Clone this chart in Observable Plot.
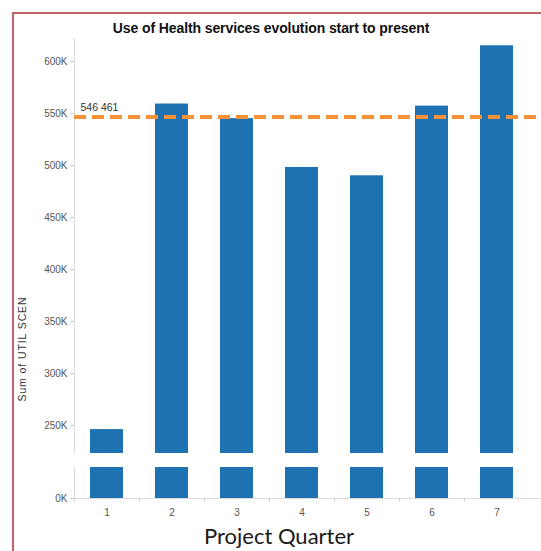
<!DOCTYPE html>
<html><head><meta charset="utf-8">
<script src="https://cdn.jsdelivr.net/npm/d3@7"></script>
<script src="https://cdn.jsdelivr.net/npm/@observablehq/plot@0.6"></script>
<style>
body{margin:0;background:#fff;}
#wrap{position:relative;width:541px;height:551px;overflow:hidden;font-family:"Liberation Sans",Arial,sans-serif;background:#fff;}
#border{position:absolute;left:12px;top:12px;width:560px;height:560px;border-left:2px solid #c4606a;border-top:2px solid #c4606a;}
#title{position:absolute;left:0;width:542px;top:20px;text-align:center;font-weight:bold;font-size:14px;letter-spacing:-0.1px;color:#111;}
#ylab{position:absolute;left:22px;top:349px;transform:translate(-50%,-50%) rotate(-90deg);font-size:10.5px;letter-spacing:0.9px;color:#333;white-space:nowrap;}
#xlab{position:absolute;left:279px;top:535px;transform:translate(-50%,-50%);font-family:Lato,"Open Sans",sans-serif;font-size:22px;color:#1a1a1a;white-space:nowrap;}
#up{position:absolute;left:0;top:0;}
#low{position:absolute;left:0;top:455px;}
</style></head>
<body>
<div id="wrap">
  <div id="border"></div>
  <div id="up"></div>
  <div id="low"></div>
  <div id="title">Use of Health services evolution start to present</div>
  <div id="ylab">Sum of UTIL SCEN</div>
  <div id="xlab">Project Quarter</div>
</div>
<script>
const quarters = ["1","2","3","4","5","6","7"];
const utilScen = [246000, 559000, 545000, 498000, 490000, 557000, 615000];
const refValue = 546461;
const upperTicks = [250000, 300000, 350000, 400000, 450000, 500000, 550000, 600000];
const lowerTicks = [0];

const data = quarters.map((q, i) => ({q, v: utilScen[i]}));
const fmt = d => (d / 1000) + "K";
const barColor = "#1f72b1";
const xRange = [74, 529];
const step = (xRange[1] - xRange[0]) / quarters.length;
const font = "'Liberation Sans', Arial, sans-serif";

const upper = Plot.plot({
  width: 541, height: 470,
  marginLeft: 74, marginRight: 0, marginTop: 38, marginBottom: 17,
  style: {fontFamily: font, fontSize: "10px", background: "transparent"},
  x: {domain: quarters, range: xRange, paddingInner: 0.5, paddingOuter: 0.25, axis: null},
  y: {domain: [223000, 622000]},
  marks: [
    Plot.frame({anchor: "left", stroke: "#dcdcdc"}),
    Plot.axisY({ticks: upperTicks, tickFormat: fmt, tickSize: 4, tickPadding: 3, stroke: "#c8c8c8", fill: "#555", label: null, fontSize: 10}),
    Plot.barY(data, {x: "q", y: "v", fill: barColor, clip: true}),
    Plot.ruleY([refValue], {stroke: "#f59238", strokeWidth: 4, strokeDasharray: "12,6"}),
    Plot.text([refValue], {y: d => d, text: d => d3.format(",")(d).replace(",", " "), frameAnchor: "left", textAnchor: "start", dx: 6, dy: -9, fontSize: 10.5, fill: "#333"})
  ]
});
document.getElementById("up").appendChild(upper);

const lower = Plot.plot({
  width: 541, height: 96,
  marginLeft: 74, marginRight: 0, marginTop: 12, marginBottom: 53,
  style: {fontFamily: font, fontSize: "10px", background: "transparent"},
  x: {domain: quarters, range: xRange, paddingInner: 0.5, paddingOuter: 0.25},
  y: {domain: [0, 30000]},
  marks: [
    Plot.frame({anchor: "left", stroke: "#dcdcdc"}),
    Plot.frame({anchor: "bottom", stroke: "#dcdcdc"}),
    Plot.axisY({ticks: lowerTicks, tickFormat: fmt, tickSize: 4, tickPadding: 3, stroke: "#c8c8c8", fill: "#555", label: null, fontSize: 10}),
    Plot.axisX({tickSize: 0, tickPadding: 10, fill: "#555", label: null, fontSize: 10}),
    Plot.axisX({tickSize: 4, tickFormat: () => "", dx: -step / 2, stroke: "#d0d0d0", label: null}),
    Plot.barY(data, {x: "q", y: "v", fill: barColor, clip: true})
  ]
});
document.getElementById("low").appendChild(lower);
</script>
</body></html>
